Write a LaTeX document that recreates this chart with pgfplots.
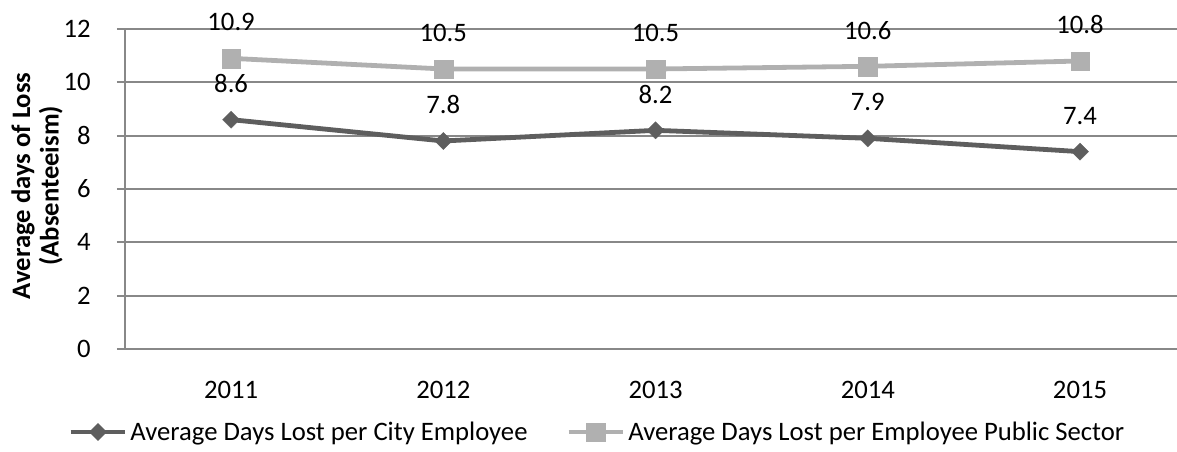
\documentclass[border=0pt]{standalone}
\usepackage{pgfplots}
\pgfplotsset{compat=1.18}
\usepackage{fontspec}
\setmainfont{Carlito}

\definecolor{cityc}{HTML}{5E5E5E}
\definecolor{pubc}{HTML}{B0B0B0}
\definecolor{gridc}{HTML}{888888}

\pgfplotstableread{
x year value
0 2011 8.6
1 2012 7.8
2 2013 8.2
3 2014 7.9
4 2015 7.4
}\citytable
\pgfplotstableread{
x year value
0 2011 10.9
1 2012 10.5
2 2013 10.5
3 2014 10.6
4 2015 10.8
}\publictable

\begin{document}
\begin{tikzpicture}[font=\fontsize{20}{24}\selectfont]
\begin{axis}[
  name=ax,
  scale only axis,
  width=789pt, height=240pt,
  xmin=-0.5, xmax=4.457,
  ymin=0, ymax=12,
  ytick={0,2,...,12},
  xtick={0,1,2,3,4},
  xticklabels={2011,2012,2013,2014,2015},
  /pgf/number format/assume math mode=true,
  axis x line*=bottom,
  axis y line*=left,
  axis line style={gridc, line width=1.5pt},
  ymajorgrids,
  grid style={gridc, line width=1.5pt},
  major tick length=6pt,
  tick align=outside,
  ytick style={gridc, line width=1.5pt},
  xtick style={draw=none},
  yticklabel style={anchor=east, inner sep=0pt, xshift=-19.5pt},
  xticklabel style={anchor=center, inner sep=0pt, yshift=-25pt},
  ylabel={Average days of Loss\\(Absenteeism)},
  ylabel style={at={(axis description cs:0,0.51)}, anchor=center,
    yshift=66pt, align=center,
    font=\bfseries\fontsize{20}{21.5}\selectfont},
  clip=false,
  nodes near coords,
  point meta=explicit symbolic,
  every node near coord/.style={anchor=center, yshift=27pt, text=black},
  legend style={at={(axis description cs:0,0)}, anchor=west,
    xshift=-42.75pt, yshift=-62.25pt, draw=none, inner sep=0pt,
    legend columns=2, font=\fontsize{20}{24}\selectfont,
    nodes={inner sep=2pt},
    /tikz/every even column/.style={column sep=27pt}},
  legend cell align=left,
  legend image code/.code={
    \draw[#1, mark=none] (0pt,0pt) -- (41pt,0pt);
    \path[#1] plot coordinates {(20.5pt,0pt)};
  },
]
\addplot[cityc, line width=3.6pt, mark=square*, mark size=4.6pt,
  mark options={rotate=45, solid, line width=0.1pt}]
  table[x=x, y=value, meta=value] {\citytable};
\addlegendentry{Average Days Lost per City Employee}
\addplot[pubc, line width=3.6pt, mark=square*, mark size=7pt,
  mark options={solid, line width=0.1pt}]
  table[x=x, y=value, meta=value] {\publictable};
\addlegendentry{Average Days Lost per Employee Public Sector}
\end{axis}
\pgfresetboundingbox
\path ([shift={(-93.75pt,-77.25pt)}]ax.south west)
  rectangle ([shift={(789pt,261.75pt)}]ax.south west);
\end{tikzpicture}
\end{document}
